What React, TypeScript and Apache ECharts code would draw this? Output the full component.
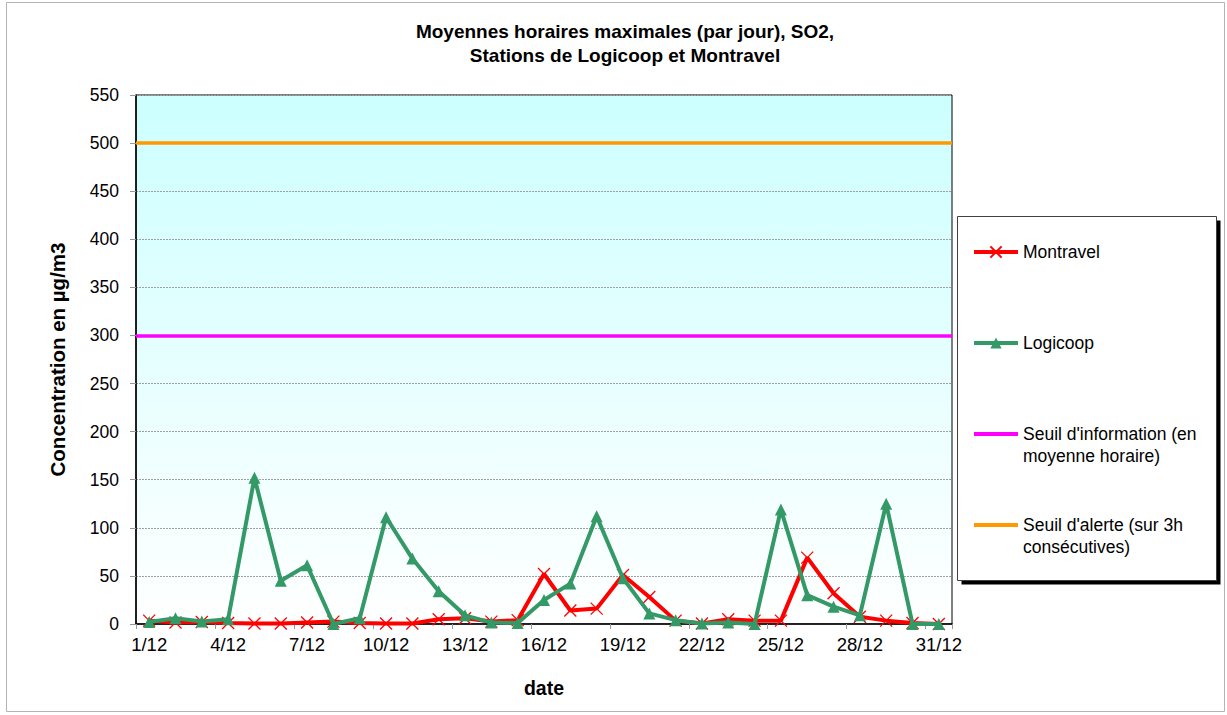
import React, { useEffect, useRef } from "react";
import * as echarts from "echarts";

const DATES = [
  "1/12", "2/12", "3/12", "4/12", "5/12", "6/12", "7/12", "8/12", "9/12", "10/12",
  "11/12", "12/12", "13/12", "14/12", "15/12", "16/12", "17/12", "18/12", "19/12", "20/12",
  "21/12", "22/12", "23/12", "24/12", "25/12", "26/12", "27/12", "28/12", "29/12", "30/12", "31/12",
];

const MONTRAVEL = [
  3.5, 1.5, 2, 1, 0.5, 0.5, 1.5, 2.5, 1, 0.5,
  0.5, 5, 6, 2.5, 4, 52, 14, 16, 51, 28,
  3.5, 0.5, 5, 3.5, 3.5, 69, 32, 7.5, 3.5, 1, 0,
];

const LOGICOOP = [
  2, 6, 2.5, 5, 152, 45, 61, 0, 6, 111,
  68, 34, 9, 1.5, 1, 25, 42, 112, 47.5, 11,
  4, 0.5, 1.5, 0, 119, 30, 18, 9, 125, 0, 0,
];

const INFO_THRESHOLD = 300;
const ALERT_THRESHOLD = 500;

const Y_MIN = 0;
const Y_MAX = 550;
const Y_INTERVAL = 50;

const NAMES = {
  montravel: "Montravel",
  logicoop: "Logicoop",
  info: "Seuil d'information (en moyenne horaire)",
  alert: "Seuil d'alerte (sur 3h consécutives)",
};

const FONT = "Liberation Sans, Arial, Helvetica, sans-serif";
const RED = "#ff0000";
const GREEN = "#339966";
const MAGENTA = "#ff00ff";
const ORANGE = "#ff9900";

const X_MARK = "path://M0,0L10,10M10,0L0,10";

function legendFor(name: string, top: number, formatter?: string, hideSymbol?: boolean) {
  const l: any = {
    data: [name],
    orient: "vertical",
    left: 972,
    top,
    padding: 0,
    itemWidth: 44,
    itemHeight: 14,
    itemGap: 0,
    selectedMode: false,
    formatter: formatter ?? "{name}",
    lineStyle: { width: 4 },
    textStyle: {
      fontFamily: FONT,
      fontSize: 17.5,
      color: "#000",
      lineHeight: 22,
    },
  };
  if (hideSymbol) {
    l.itemStyle = { color: "rgba(0,0,0,0)", borderWidth: 0 };
  }
  return l;
}

export default function App() {
  const ref = useRef<HTMLDivElement>(null);

  useEffect(() => {
    if (!ref.current) return;
    const chart = echarts.init(ref.current, undefined, { renderer: "svg" });

    const option: any = {
      animation: false,
      backgroundColor: "#ffffff",
      textStyle: { fontFamily: FONT },
      title: {
        text: "Moyennes horaires maximales (par jour), SO2,\nStations de Logicoop et Montravel",
        left: 625,
        top: 19,
        textAlign: "center",
        padding: 0,
        textStyle: {
          fontFamily: FONT,
          fontSize: 19,
          fontWeight: "bold",
          color: "#000",
          lineHeight: 24,
        },
      },
      graphic: [
        {
          type: "rect",
          silent: true,
          z: -10,
          shape: { x: 6.5, y: 2.5, width: 1218, height: 709 },
          style: { fill: "#ffffff", stroke: "#b4b4b4", lineWidth: 1 },
        },
        {
          type: "rect",
          silent: true,
          z: 0,
          shape: { x: 961.5, y: 220.5, width: 259, height: 364 },
          style: { fill: "#000000" },
        },
        {
          type: "rect",
          silent: true,
          z: 0,
          shape: { x: 957.5, y: 216.5, width: 259, height: 364 },
          style: { fill: "#ffffff", stroke: "#404040", lineWidth: 1 },
        },
      ],
      legend: [
        legendFor(NAMES.montravel, 241),
        legendFor(NAMES.logicoop, 332),
        legendFor(NAMES.info, 401, "\u00a0\nSeuil d'information (en\nmoyenne horaire)", true),
        legendFor(NAMES.alert, 492, "\u00a0\nSeuil d'alerte (sur 3h\nconsécutives)", true),
      ],
      grid: {
        left: 136,
        right: 275,
        top: 95,
        bottom: 91,
        show: true,
        borderColor: "#000",
        borderWidth: 1,
        backgroundColor: new echarts.graphic.LinearGradient(0, 0, 0, 1, [
          { offset: 0, color: "#ccffff" },
          { offset: 1, color: "#ffffff" },
        ]),
      },
      xAxis: {
        type: "category",
        data: DATES,
        boundaryGap: true,
        name: "date",
        nameLocation: "middle",
        nameGap: 54,
        nameTextStyle: { fontFamily: FONT, fontSize: 19.5, fontWeight: "bold", color: "#000" },
        axisLine: { lineStyle: { color: "#000", width: 1.5 } },
        axisTick: { show: true, interval: 2, length: 5, lineStyle: { color: "#999" } },
        axisLabel: {
          interval: 2,
          margin: 11,
          fontFamily: FONT,
          fontSize: 18.5,
          color: "#000",
        },
        splitLine: { show: false },
      },
      yAxis: {
        type: "value",
        min: Y_MIN,
        max: Y_MAX,
        interval: Y_INTERVAL,
        name: "Concentration en µg/m3",
        nameLocation: "middle",
        nameGap: 68,
        nameRotate: 90,
        nameTextStyle: { fontFamily: FONT, fontSize: 20.5, fontWeight: "bold", color: "#000" },
        axisLine: { show: true, lineStyle: { color: "#000", width: 1.5 } },
        axisTick: { show: true, length: 6, lineStyle: { color: "#999" } },
        axisLabel: { margin: 17, fontFamily: FONT, fontSize: 17.5, color: "#000" },
        splitLine: { show: true, lineStyle: { color: "#a0a0a0", width: 1, type: [2, 1] } },
      },
      series: [
        {
          name: NAMES.montravel,
          type: "line",
          data: MONTRAVEL,
          color: RED,
          symbol: X_MARK,
          symbolSize: 12,
          showAllSymbol: true,
          lineStyle: { color: RED, width: 4 },
          itemStyle: { color: RED, borderColor: RED, borderWidth: 1.3 },
          z: 3,
        },
        {
          name: NAMES.logicoop,
          type: "line",
          data: LOGICOOP,
          color: GREEN,
          symbol: "triangle",
          symbolSize: 12,
          showAllSymbol: true,
          lineStyle: { color: GREEN, width: 4 },
          itemStyle: { color: GREEN, borderColor: GREEN, borderWidth: 0 },
          z: 4,
        },
        {
          name: NAMES.info,
          type: "line",
          data: [],
          color: MAGENTA,
          symbol: "none",
          lineStyle: { color: MAGENTA, width: 3 },
          itemStyle: { color: MAGENTA },
          markLine: {
            silent: true,
            symbol: "none",
            label: { show: false },
            lineStyle: { color: MAGENTA, width: 3.5, type: "solid" },
            data: [{ yAxis: INFO_THRESHOLD }],
          },
          z: 2,
        },
        {
          name: NAMES.alert,
          type: "line",
          data: [],
          color: ORANGE,
          symbol: "none",
          lineStyle: { color: ORANGE, width: 3 },
          itemStyle: { color: ORANGE },
          markLine: {
            silent: true,
            symbol: "none",
            label: { show: false },
            lineStyle: { color: ORANGE, width: 3.5, type: "solid" },
            data: [{ yAxis: ALERT_THRESHOLD }],
          },
          z: 2,
        },
      ],
    };

    chart.setOption(option);
    return () => chart.dispose();
  }, []);

  return (
    <div
      ref={ref}
      style={{ position: "fixed", left: 0, top: 0, width: 1227, height: 715 }}
    />
  );
}
